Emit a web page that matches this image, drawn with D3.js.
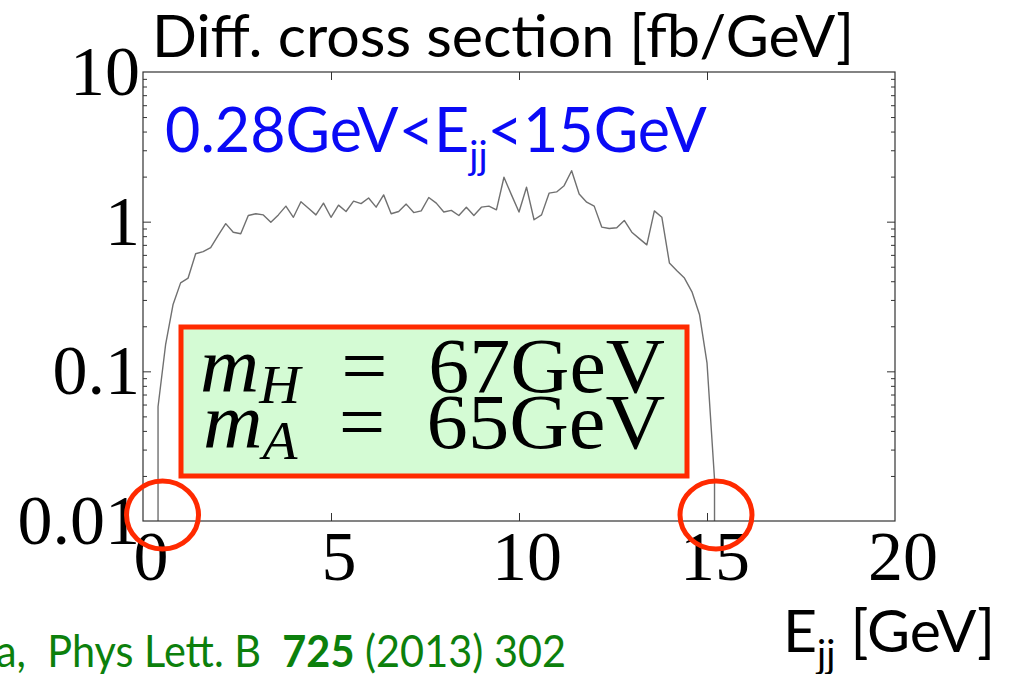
<!DOCTYPE html>
<html>
<head>
<meta charset="utf-8">
<script src="https://cdn.jsdelivr.net/npm/d3@7"></script>
<style>
  body { margin: 0; background: #fff; }
  svg { display: block; }
  text { white-space: pre; }
</style>
</head>
<body>
<script>
// E_jj bin centres [GeV] and differential cross section [fb/GeV]
const energies = [0.4, 0.4, 0.6, 0.8, 1.0, 1.2, 1.4, 1.6, 1.8, 2.0, 2.2, 2.4, 2.6, 2.8, 3.0,
  3.2, 3.4, 3.6, 3.8, 4.0, 4.2, 4.4, 4.6, 4.8, 5.0, 5.2, 5.4, 5.6, 5.8, 6.0, 6.2, 6.4,
  6.6, 6.8, 7.0, 7.2, 7.4, 7.6, 7.8, 8.0, 8.2, 8.4, 8.6, 8.8, 9.0, 9.2, 9.4, 9.6, 9.8,
  10.0, 10.2, 10.4, 10.6, 10.8, 11.0, 11.2, 11.4, 11.6, 11.8, 12.0, 12.2, 12.4, 12.6,
  12.8, 13.0, 13.2, 13.4, 13.6, 13.8, 14.0, 14.2, 14.4, 14.6, 14.8, 15.0, 15.2, 15.2];
const sigma = [0.0001, 0.058, 0.15, 0.28, 0.39, 0.42, 0.61, 0.63, 0.67, 0.81, 0.97, 0.85,
  0.83, 1.10, 1.13, 1.11, 0.99, 1.11, 1.27, 1.07, 1.36, 1.23, 1.11, 1.33, 1.07, 1.29,
  1.17, 1.37, 1.32, 1.44, 1.25, 1.51, 1.13, 1.17, 1.31, 1.15, 1.18, 1.45, 1.33, 1.16,
  1.19, 1.10, 1.25, 1.10, 1.25, 1.27, 1.20, 1.98, 1.51, 1.16, 1.70, 1.03, 1.11, 1.55,
  1.58, 1.74, 2.19, 1.53, 1.35, 1.27, 0.92, 0.90, 0.91, 1.02, 0.85, 0.77, 0.70, 1.18,
  1.07, 0.53, 0.47, 0.42, 0.34, 0.24, 0.114, 0.019, 0.0001];

const xTicks = [0, 5, 10, 15, 20];
const xTickLabels = ['0', '5', '10', '15', '20'];
const yTicks = [0.01, 0.1, 1, 10];
const yTickLabels = ['0.01', '0.1', '1', '10'];
// markers drawn around the two kinematic endpoints
const endpoints = [0.28, 15];
const masses = [['H', '67GeV'], ['A', '65GeV']];

const width = 1019, height = 674;
const plot = {left: 143, right: 895, top: 72, bottom: 521};

const svg = d3.select('body').append('svg')
    .attr('width', width)
    .attr('height', height)
    .attr('viewBox', [0, 0, width, height]);

svg.append('rect').attr('width', width).attr('height', height).attr('fill', '#fff');

const x = d3.scaleLinear().domain([0, 20]).range([plot.left, plot.right]);
const y = d3.scaleLog().domain([0.01, 10]).range([plot.bottom, plot.top]);

const sans = 'Lato, "Open Sans", sans-serif';
const serif = '"Liberation Serif", "DejaVu Serif", serif';

// Title
svg.append('text')
    .attr('x', 152).attr('y', 57)
    .attr('textLength', 702).attr('lengthAdjust', 'spacingAndGlyphs')
    .attr('font-family', sans).attr('font-size', 58)
    .text('Diff. cross section [fb/GeV]');

// Clip for the curve
svg.append('clipPath').attr('id', 'plotclip')
  .append('rect')
    .attr('x', plot.left).attr('y', plot.top)
    .attr('width', plot.right - plot.left).attr('height', plot.bottom - plot.top);

const line = d3.line()
    .x((d, i) => x(energies[i]))
    .y(d => y(d));

svg.append('path')
    .datum(sigma)
    .attr('clip-path', 'url(#plotclip)')
    .attr('fill', 'none')
    .attr('stroke', '#707070')
    .attr('stroke-width', 1.4)
    .attr('stroke-linejoin', 'round')
    .attr('d', line);

// Ticks (inward, on all four sides)
const minorY = [];
[0.01, 0.1, 1].forEach(dec => {
  for (let k = 2; k <= 9; k++) minorY.push(dec * k);
});
const axisStyle = g => {
  g.select('.domain').remove();
  g.selectAll('.tick line').attr('stroke', '#333').attr('stroke-width', 1);
  g.selectAll('.tick text').remove();
};
const inner = xTicks.slice(1, -1);
svg.append('g').attr('transform', `translate(0,${plot.bottom})`)
    .call(d3.axisBottom(x).tickValues(inner).tickSize(-8)).call(axisStyle);
svg.append('g').attr('transform', `translate(0,${plot.top})`)
    .call(d3.axisTop(x).tickValues(inner).tickSize(-8)).call(axisStyle);
svg.append('g').attr('transform', `translate(${plot.left},0)`)
    .call(d3.axisLeft(y).tickValues(yTicks.slice(1, -1)).tickSize(-8)).call(axisStyle);
svg.append('g').attr('transform', `translate(${plot.right},0)`)
    .call(d3.axisRight(y).tickValues(yTicks.slice(1, -1)).tickSize(-8)).call(axisStyle);
svg.append('g').attr('transform', `translate(${plot.left},0)`)
    .call(d3.axisLeft(y).tickValues(minorY).tickSize(-4)).call(axisStyle);
svg.append('g').attr('transform', `translate(${plot.right},0)`)
    .call(d3.axisRight(y).tickValues(minorY).tickSize(-4)).call(axisStyle);

// Frame
svg.append('rect')
    .attr('x', plot.left).attr('y', plot.top)
    .attr('width', plot.right - plot.left).attr('height', plot.bottom - plot.top)
    .attr('fill', 'none').attr('stroke', '#333').attr('stroke-width', 1.2);

// Tick labels
svg.append('g').selectAll('text')
    .data(xTicks)
    .join('text')
    .attr('x', d => x(d) + 8)
    .attr('y', 580)
    .attr('text-anchor', 'middle')
    .attr('font-family', serif).attr('font-size', 70)
    .text((d, i) => xTickLabels[i]);

svg.append('g').selectAll('text')
    .data(yTicks)
    .join('text')
    .attr('x', 140)
    .attr('y', d => y(d) + 23)
    .attr('text-anchor', 'end')
    .attr('font-family', serif).attr('font-size', 70)
    .text((d, i) => yTickLabels[i]);

// Blue range annotation
const rng = svg.append('text')
    .attr('x', 165).attr('y', 152)
    .attr('font-family', sans).attr('font-size', 61)
    .attr('fill', '#0a0af5');
rng.append('tspan').text('0.28GeV<E');
rng.append('tspan').attr('font-size', 38).attr('dy', 17).text('jj');
rng.append('tspan').attr('dy', -17).text('<15GeV');

// Mass box
svg.append('rect')
    .attr('x', 181).attr('y', 327)
    .attr('width', 506).attr('height', 149)
    .attr('fill', '#d4fbd4')
    .attr('stroke', '#ff2a00').attr('stroke-width', 5);

svg.append('g').selectAll('text')
    .data(masses)
    .join('text')
    .attr('x', (d, i) => 200 + i * 3)
    .attr('y', (d, i) => 392 + i * 56)
    .attr('textLength', (d, i) => 465 - i * 3)
    .attr('lengthAdjust', 'spacingAndGlyphs')
    .attr('font-family', serif).attr('font-size', 78)
    .each(function(d) {
      const t = d3.select(this);
      t.append('tspan').attr('font-style', 'italic').text('m');
      t.append('tspan').attr('font-style', 'italic').attr('font-size', 54)
          .attr('dy', 11).text(d[0]);
      t.append('tspan').attr('dy', -11).text('  =  ' + d[1]);
    });

// Red circles at the endpoints
svg.append('g').selectAll('ellipse')
    .data(endpoints)
    .join('ellipse')
    .attr('cx', d => x(d) + 9)
    .attr('cy', 515)
    .attr('rx', 36).attr('ry', 34)
    .attr('fill', 'none')
    .attr('stroke', '#ff2a00').attr('stroke-width', 5);

// x-axis label
const xl = svg.append('text')
    .attr('x', 783).attr('y', 652)
    .attr('font-family', sans).attr('font-size', 59);
xl.append('tspan').text('E');
xl.append('tspan').attr('font-size', 38).attr('dy', 16).text('jj');
xl.append('tspan').attr('dy', -16).text(' [GeV]');

// Reference (left part runs off the slide edge)
const ref = svg.append('text')
    .attr('x', -4).attr('y', 667)
    .attr('textLength', 570).attr('lengthAdjust', 'spacingAndGlyphs')
    .attr('font-family', sans).attr('font-size', 44)
    .attr('fill', '#0c800c');
ref.append('tspan').text('a,  Phys Lett. B  ');
ref.append('tspan').attr('font-weight', 'bold').text('725');
ref.append('tspan').text(' (2013) 302');
</script>
</body>
</html>
